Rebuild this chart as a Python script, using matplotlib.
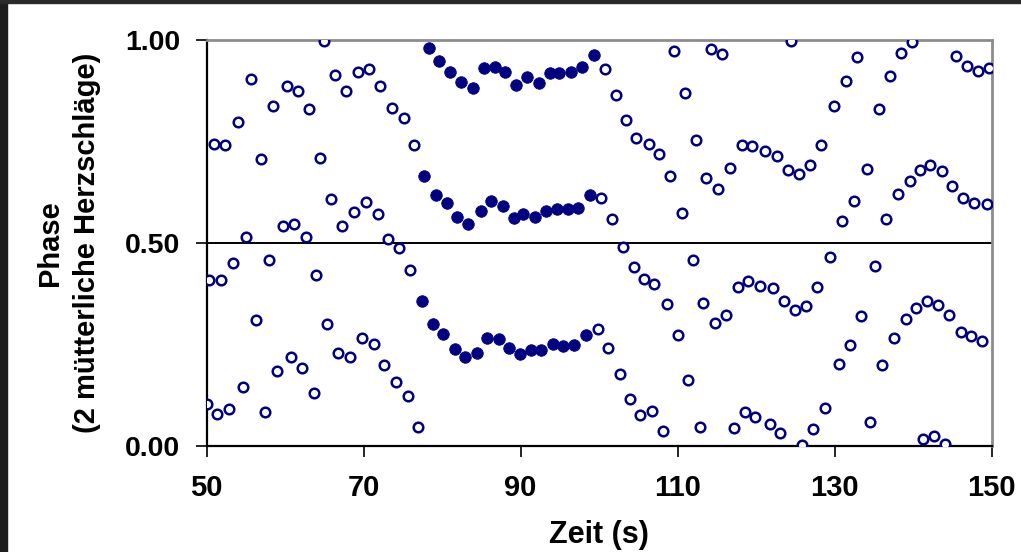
import matplotlib
matplotlib.use("Agg")
import matplotlib.pyplot as plt
from matplotlib.patches import Rectangle

plt.rcParams['font.family'] = ['Liberation Sans', 'DejaVu Sans']

# open circles: phases outside the synchronisation epoch
time_open = [
    50.0, 50.3, 50.9, 51.3, 51.8, 52.4, 52.9, 53.4, 54.0, 54.6,
    55.0, 55.7, 56.3, 56.9, 57.5, 58.0, 58.5, 59.0, 59.7, 60.2,
    60.7, 61.2, 61.7, 62.1, 62.7, 63.1, 63.7, 63.9, 64.5, 65.0,
    65.4, 65.8, 66.3, 66.8, 67.3, 67.8, 68.3, 68.8, 69.3, 69.8,
    70.3, 70.7, 71.3, 71.8, 72.1, 72.6, 73.1, 73.6, 74.1, 74.5,
    75.1, 75.6, 75.9, 76.4, 76.9,
    99.8, 100.2, 100.7, 101.1, 101.7, 102.1, 102.6, 103.1, 103.4, 103.9,
    104.4, 104.7, 105.2, 105.7, 106.3, 106.7, 107.0, 107.6, 108.1, 108.6,
    109.0, 109.5, 110.0, 110.5, 110.9, 111.3, 111.9, 112.3, 112.9, 113.2,
    113.6, 114.2, 114.7, 115.2, 115.7, 116.2, 116.7, 117.2, 117.7, 118.2,
    118.6, 119.0, 119.5, 119.9, 120.5, 121.1, 121.7, 122.1, 122.7, 123.1,
    123.5, 124.0, 124.4, 125.0, 125.5, 125.9, 126.3, 126.8, 127.3, 127.8,
    128.3, 128.8, 129.4, 129.9, 130.5, 130.9, 131.4, 131.9, 132.4, 132.9,
    133.4, 134.1, 134.5, 135.1, 135.6, 136.0, 136.5, 137.1, 137.6, 138.1,
    138.5, 139.1, 139.6, 139.9, 140.4, 140.9, 141.3, 141.8, 142.2, 142.7,
    143.2, 143.7, 144.0, 144.5, 145.0, 145.5, 146.1, 146.3, 146.9, 147.4,
    147.7, 148.3, 148.8, 149.4, 149.7,
]
phase_open = [
    0.103, 0.410, 0.744, 0.078, 0.410, 0.741, 0.090, 0.452, 0.797, 0.145,
    0.514, 0.905, 0.310, 0.707, 0.084, 0.459, 0.837, 0.185, 0.543, 0.887,
    0.220, 0.546, 0.874, 0.192, 0.514, 0.831, 0.131, 0.421, 0.710, 0.998,
    0.300, 0.608, 0.915, 0.230, 0.543, 0.874, 0.220, 0.576, 0.920, 0.267,
    0.601, 0.929, 0.251, 0.571, 0.887, 0.199, 0.509, 0.833, 0.158, 0.487,
    0.809, 0.124, 0.434, 0.741, 0.047,
    0.288, 0.610, 0.928, 0.242, 0.558, 0.865, 0.177, 0.490, 0.803, 0.115,
    0.440, 0.759, 0.077, 0.411, 0.744, 0.087, 0.399, 0.719, 0.038, 0.350,
    0.665, 0.974, 0.273, 0.575, 0.869, 0.162, 0.459, 0.754, 0.046, 0.353,
    0.661, 0.977, 0.303, 0.632, 0.965, 0.323, 0.686, 0.044, 0.391, 0.741,
    0.085, 0.407, 0.738, 0.071, 0.394, 0.727, 0.055, 0.388, 0.714, 0.031,
    0.356, 0.680, 0.998, 0.335, 0.670, 0.002, 0.345, 0.691, 0.041, 0.391,
    0.741, 0.094, 0.465, 0.837, 0.202, 0.555, 0.899, 0.249, 0.604, 0.958,
    0.320, 0.683, 0.059, 0.443, 0.831, 0.199, 0.558, 0.911, 0.267, 0.621,
    0.967, 0.314, 0.653, 0.995, 0.339, 0.680, 0.017, 0.357, 0.691, 0.025,
    0.348, 0.677, 0.004, 0.323, 0.641, 0.961, 0.282, 0.611, 0.937, 0.271,
    0.599, 0.924, 0.258, 0.596, 0.930,
]

# filled circles: synchronised epoch
time_sync = [
    77.4, 77.7, 78.3, 78.8, 79.2, 79.6, 80.1, 80.6, 81.0, 81.6,
    81.9, 82.4, 82.9, 83.3, 83.9, 84.4, 84.9, 85.3, 85.7, 86.2,
    86.7, 87.2, 87.7, 88.0, 88.5, 89.1, 89.4, 89.9, 90.3, 90.8,
    91.3, 91.8, 92.3, 92.6, 93.2, 93.7, 94.1, 94.6, 94.9, 95.4,
    96.0, 96.4, 96.8, 97.3, 97.8, 98.3, 98.8, 99.3,
]
phase_sync = [
    0.357, 0.666, 0.980, 0.300, 0.619, 0.948, 0.276, 0.599, 0.921, 0.239,
    0.564, 0.896, 0.220, 0.546, 0.883, 0.230, 0.580, 0.930, 0.267, 0.603,
    0.934, 0.264, 0.592, 0.921, 0.241, 0.562, 0.889, 0.227, 0.571, 0.909,
    0.236, 0.564, 0.893, 0.236, 0.578, 0.918, 0.252, 0.583, 0.918, 0.246,
    0.583, 0.920, 0.249, 0.586, 0.933, 0.273, 0.618, 0.962,
]

x_ticks = [50, 70, 90, 110, 130, 150]
y_ticks = [0.0, 0.5, 1.0]
y_tick_labels = ["0.00", "0.50", "1.00"]

navy = "#000080"

fig = plt.figure(figsize=(10.21, 5.52), dpi=100)
ax = fig.add_axes([0.2023, 0.192, 0.769, 0.7355])

ax.axhline(0.5, color="black", linewidth=1.4, zorder=1)
ax.plot(time_open, phase_open, linestyle="none", marker="o", markersize=6.9,
        markerfacecolor="white", markeredgecolor=navy, markeredgewidth=1.8, zorder=3)
ax.plot(time_sync, phase_sync, linestyle="none", marker="o", markersize=8.3,
        markerfacecolor=navy, markeredgecolor=navy, markeredgewidth=0.6, zorder=3)

ax.set_xlim(50, 150)
ax.set_ylim(0, 1)
ax.set_xticks(x_ticks)
ax.set_yticks(y_ticks)
ax.set_yticklabels(y_tick_labels)

for s in ["left", "bottom"]:
    ax.spines[s].set_color("black")
    ax.spines[s].set_linewidth(1.6)
for s in ["top", "right"]:
    ax.spines[s].set_color("#8c8c8c")
    ax.spines[s].set_linewidth(2.0)

ax.tick_params(axis="both", direction="out", length=8, width=1.2, colors="black")
ax.tick_params(axis="x", pad=12, labelsize=21)
ax.tick_params(axis="y", pad=11, labelsize=20.5)
for lab in ax.get_xticklabels() + ax.get_yticklabels():
    lab.set_fontweight("bold")

ax.set_xlabel("Zeit (s)", fontsize=22, fontweight="bold", labelpad=13)
ax.set_ylabel("Phase\n(2 mütterliche Herzschläge)", fontsize=21, fontweight="bold",
              labelpad=17, linespacing=1.4)

# dark frame of the screenshot
fig.add_artist(Rectangle((0, 0), 7 / 1021, 1, transform=fig.transFigure,
                         color="#1e1e1e", zorder=0))
fig.add_artist(Rectangle((0, 1 - 3 / 552), 1, 3 / 552, transform=fig.transFigure,
                         color="#2a2a2a", zorder=0))

fig.savefig("out.png", dpi=100)
